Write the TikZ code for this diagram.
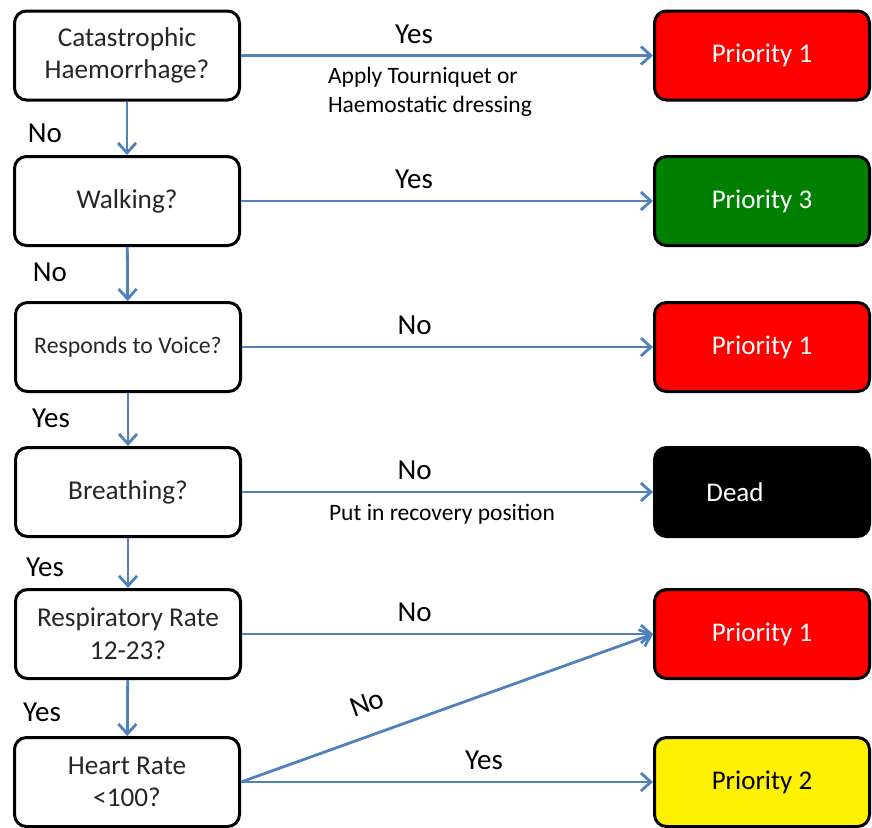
\documentclass[tikz,border=0pt]{standalone}
\usepackage{fontspec}
\setmainfont{Carlito}
\usetikzlibrary{arrows.meta, positioning}

\definecolor{linkblue}{HTML}{4F81BD}
\definecolor{prioGreen}{HTML}{008000}

\tikzset{
  question/.style={draw=black, line width=1.5pt, rounded corners=6pt, fill=white,
    minimum width=112.5pt, minimum height=44.5pt, align=center, text=black!85,
    font=\fontsize{13.6}{16.3}\selectfont},
  outcome/.style={draw=black, line width=1.5pt, rounded corners=6pt,
    minimum width=107.5pt, minimum height=44.5pt, text=white,
    font=\fontsize{13.5}{16}\selectfont},
  link/.style={draw=linkblue, line width=1.4pt, -{Straight Barb[length=5pt,width=9pt]}},
  answer/.style={font=\fontsize{14.5}{17}\selectfont},
  note/.style={font=\fontsize{11.75}{14.5}\selectfont, align=left}
}

\begin{document}
\begin{tikzpicture}[x=0.5pt, y=-0.5pt]
\useasboundingbox (0,0) rectangle (872,827);

% questions
\node[question] (q1) at (127,55.5) {Catastrophic\\Haemorrhage?};
\node[question] (q2) at (127,201) {Walking?};
\node[question] (q3) at (128,347) {\fontsize{11.9}{14}\selectfont Responds to Voice?};
\node[question] (q4) at (128,492) {Breathing?};
\node[question] (q5) at (128,634) {Respiratory Rate\\12-23?};
\node[question] (q6) at (127,782) {Heart Rate\\<100?};

% outcomes
\node[outcome, fill=red] (o1) at (762,55.5) {Priority 1};
\node[outcome, fill=prioGreen] (o2) at (762,201) {Priority 3};
\node[outcome, fill=red] (o3) at (762,347) {Priority 1};
\node[outcome, fill=black] (o4) at (762,492) {Dead\hspace*{27pt}};
\node[outcome, fill=red] (o5) at (762,634) {Priority 1};
\node[outcome, fill=yellow, text=black] (o6) at (762,782) {Priority 2};

% down the left
\draw[link] (q1) -- (q2);
\draw[link] (q2) -- (q3);
\draw[link] (q3) -- (q4);
\draw[link] (q4) -- (q5);
\draw[link] (q5) -- (q6);
\node[answer] (a12) at (45,133) {No};
\node[answer] (a23) at (50,272) {No};
\node[answer] (a34) at (51,418) {Yes};
\node[answer] (a45) at (45,567) {Yes};
\node[answer] (a56) at (42,712) {Yes};

% across
\draw[link] (q1) -- node[answer, pos=0.42, above=2pt] {Yes} (o1);
\draw[link] (q2) -- node[answer, pos=0.42, above=2pt] {Yes} (o2);
\draw[link] (q3) -- node[answer, pos=0.42, above=2pt] {No} (o3);
\draw[link] (q4) -- node[answer, pos=0.42, above=2pt] {No} (o4);
\draw[link] (q5) -- node[answer, pos=0.42, above=2pt] {No} (o5);
\draw[link] (q6.east) -- (o5.west);
\draw[link] (q6) -- node[answer, pos=0.59, above=2pt] {Yes} (o6);
\node[answer, rotate=20, inner sep=1pt] (diagNo) at (367,703) {No};

\node[note, anchor=west] (tourniquet) at (321,92) {Apply Tourniquet or\\Haemostatic dressing};
\node[note] (recovery) at (442,514) {Put in recovery position};

\end{tikzpicture}
\end{document}
